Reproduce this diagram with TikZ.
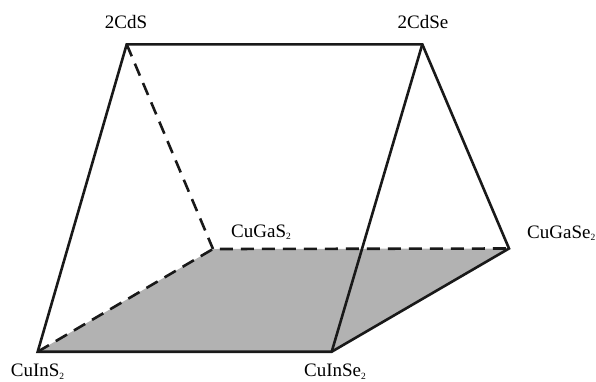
\documentclass[tikz,border=0pt]{standalone}
\usepackage{fontspec}
\setmainfont{Liberation Serif}
\newcommand{\subtwo}{\raisebox{-2.5pt}{\fontsize{9.5}{9.5}\selectfont 2}}
\begin{document}
\begin{tikzpicture}[x=1pt,y=-1pt,
  edge/.style={line width=2.6pt,line join=miter,black!90},
  hidden/.style={edge,dash pattern=on 13pt off 8pt},
  lbl/.style={font=\fontsize{19}{22}\selectfont,inner sep=0pt}]
\useasboundingbox (0,0) rectangle (596,381);
\coordinate (cds) at (126.7,44.3);
\coordinate (cdse) at (422.3,44.3);
\coordinate (cgs) at (213,249);
\coordinate (cgse) at (509,248.5);
\coordinate (cis) at (37.7,351.7);
\coordinate (cise) at (331.7,351.7);
\fill[black!30] (cis) -- (cise) -- (cgse) -- (cgs) -- cycle;
\draw[hidden] (cds) -- (cgs);
\draw[hidden] (cis) -- (cgs) -- (cgse);
\draw[edge] (cis) -- (cds) -- (cdse) -- (cgse) -- (cise) -- cycle;
\draw[edge] (cdse) -- (cise);
\node[lbl,anchor=base] (l1) at (126,28) {2CdS};
\node[lbl,anchor=base] (l2) at (423,28) {2CdSe};
\node[lbl,anchor=base west] (l3) at (231,237) {CuGaS\subtwo};
\node[lbl,anchor=base west] (l4) at (527,238) {CuGaSe\subtwo};
\node[lbl,anchor=base] (l5) at (37.5,376.5) {CuInS\subtwo};
\node[lbl,anchor=base] (l6) at (335,376.5) {CuInSe\subtwo};
\end{tikzpicture}
\end{document}
